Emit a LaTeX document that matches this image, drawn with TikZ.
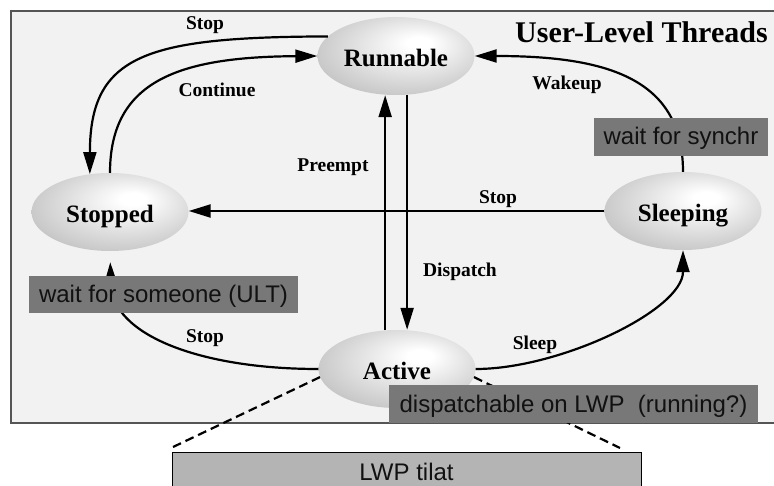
\documentclass[tikz,border=0pt]{standalone}
\usepackage{fontspec}
\setmainfont{Liberation Serif}
\setsansfont{Liberation Sans}
\usetikzlibrary{arrows.meta,shapes.geometric}
\definecolor{framebg}{HTML}{F2F2F2}
\definecolor{framelc}{HTML}{555555}
\definecolor{ellout}{HTML}{929292}
\definecolor{ellmid}{HTML}{CBCBCB}
\definecolor{boxdark}{HTML}{787878}
\definecolor{boxlight}{HTML}{B4B4B4}
\definecolor{inktext}{HTML}{111111}
\pgfdeclareradialshading{ellshade}{\pgfpoint{8bp}{9bp}}{color(0bp)=(white); color(4bp)=(white); color(28bp)=(ellmid); color(50bp)=(ellout)}
\tikzset{
  state/.style={ellipse, minimum width=157pt, minimum height=78pt, inner sep=0pt,
    shading=ellshade, font=\fontsize{25}{25}\selectfont\bfseries, text height=22pt, text depth=0pt},
  lbl/.style={font=\fontsize{19.5}{20}\selectfont\bfseries, anchor=base, inner sep=0pt},
  note/.style={fill=boxdark, inner sep=0pt, font=\sffamily\fontsize{24}{24}\selectfont,
    text height=16pt, text depth=0pt, text=inktext},
  arr/.style={line width=2.2pt, -{Triangle[length=22pt,width=13pt]}},
  dashln/.style={line width=2.2pt, dash pattern=on 9pt off 5pt}
}
\begin{document}
\begin{tikzpicture}[x=1pt,y=-1pt]
\useasboundingbox (0,0) rectangle (774,486);
\clip (0,0) rectangle (774,486);
\fill[white] (0,0) rectangle (774,486);
\draw[fill=framebg, draw=framelc, line width=1.5pt] (11,11) rectangle (780,423);

% states
\node[state] (Run) at (396,56) {Runnable};
\node[state] (Stp) at (110,212) {Stopped};
\node[state] (Slp) at (683,211) {Sleeping};
\node[state] (Act) at (397,369) {Active};

% transitions
\draw[arr] (Run.164) .. controls (145,37) and (90,55) .. (Stp.118);
\draw[arr] (Stp.north) .. controls (110,80) and (180,57) .. (Run.west);
\draw[arr] (Slp.north) .. controls (683,80) and (610,56) .. (Run.east);
\draw[arr] (Act.east) .. controls (560,369) and (683,310) .. (Slp.south);
\draw[arr, shorten >=11pt] (Act.west) .. controls (200,369) and (112,335) .. (Stp.south);
\draw[arr] (Act.107) -- (Act.107 |- Run.south);
\draw[arr] (Run.286) -- (Run.286 |- Act.north);
\draw[arr] (Slp.west) -- (Slp.west -| Stp.east);

% dashed links to LWP box
\coordinate (dl) at (173,447);
\coordinate (dr) at (620,448);
\draw[dashln] (Act.186) -- (dl);
\draw[dashln] (Act.-6) -- (dr);

% labels
\node[lbl] (l1) at (205,30) {Stop};
\node[lbl] (l2) at (217,97) {Continue};
\node[lbl] (l3) at (333,172) {Preempt};
\node[lbl] (l4) at (567,90) {Wakeup};
\node[lbl] (l5) at (498,204) {Stop};
\node[lbl] (l6) at (460,277) {Dispatch};
\node[lbl] (l7) at (205,343) {Stop};
\node[lbl] (l8) at (535,350) {Sleep};
\node[font=\fontsize{30}{30}\selectfont\bfseries, anchor=base west, inner sep=0pt] (ttl) at (515,43) {User-Level Threads};

% notes
\node[note, minimum width=174pt, minimum height=38pt] (ws) at (681,137) {wait for synchr};
\node[note, minimum width=269pt, minimum height=37pt] (wso) at (163.5,294.5) {wait for someone (ULT)};
\node[note, minimum width=369pt, minimum height=38pt] (dsp) at (573.5,404) {dispatchable on LWP\ \ (running?)};
\node[note, fill=boxlight, draw=black, line width=0.8pt, minimum width=469pt, minimum height=40pt] (lwp) at (406.5,472) {LWP tilat};
\end{tikzpicture}
\end{document}
